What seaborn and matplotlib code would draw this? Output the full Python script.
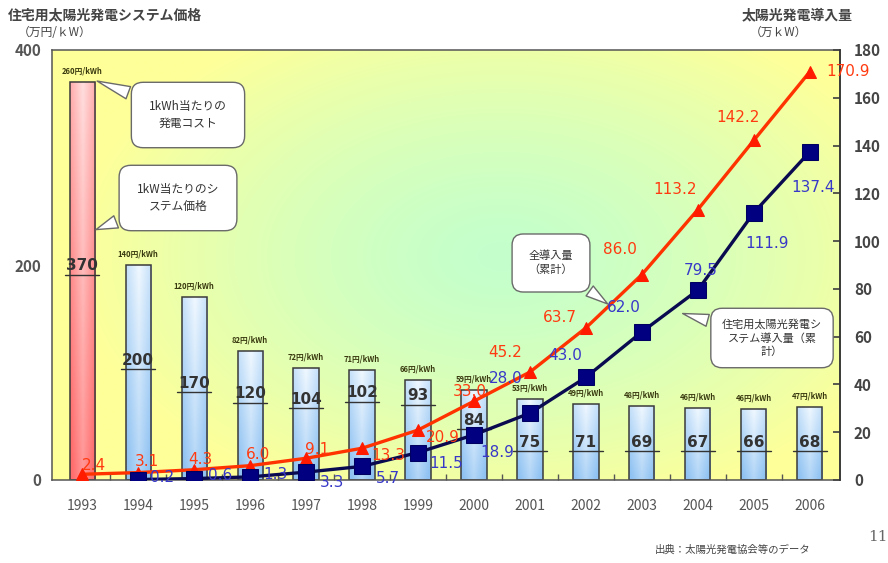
import numpy as np
import pandas as pd
import matplotlib
matplotlib.use("Agg")
import matplotlib.pyplot as plt
import seaborn as sns
from matplotlib.colors import to_rgb
from matplotlib.ticker import MultipleLocator, FixedLocator

# ---- data ----
years = ["1993", "1994", "1995", "1996", "1997", "1998", "1999",
         "2000", "2001", "2002", "2003", "2004", "2005", "2006"]
system_price = [370, 200, 170, 120, 104, 102, 93, 84, 75, 71, 69, 67, 66, 68]
gen_cost = ["260円/kWh", "140円/kWh", "120円/kWh", "82円/kWh", "72円/kWh",
            "71円/kWh", "66円/kWh", "59円/kWh", "53円/kWh", "49円/kWh",
            "48円/kWh", "46円/kWh", "46円/kWh", "47円/kWh"]
total_installed = [2.4, 3.1, 4.3, 6.0, 9.1, 13.3, 20.9, 33.0, 45.2, 63.7,
                   86.0, 113.2, 142.2, 170.9]
res_years = years[1:]
residential_installed = [0.2, 0.6, 1.3, 3.3, 5.7, 11.5, 18.9, 28.0, 43.0,
                         62.0, 79.5, 111.9, 137.4]

# layout: baseline height of the price label inside each bar (left-axis units)
price_label_y = [195, 107, 86, 76, 71, 77, 74, 51, 31, 31, 31, 31, 31, 31]
# label offsets (pixels) relative to each marker
red_offsets = [(12, 9), (9, 11), (6, 10), (8, 11), (11, 9), (26, -7), (25, -7),
               (-4, 10), (-25, 20), (-26, 10), (-22, 25), (-23, 20), (-16, 23),
               (38, 0)]
blue_offsets = [(24, 2), (26, 3), (25, 2), (26, -10), (26, -12), (28, -11),
                (23, -18), (-24, 35), (-21, 22), (-18, 24), (3, 20), (13, -31),
                (3, -36)]

df_bar = pd.DataFrame({"year": years, "price": system_price})
df_total = pd.DataFrame({"pos": np.arange(len(years)), "val": total_installed})
df_res = pd.DataFrame({"pos": np.arange(1, len(years)), "val": residential_installed})

sns.set_theme(style="white")
plt.rcParams["font.family"] = ["Noto Sans CJK JP", "DejaVu Sans"]

W, H = 888, 563
fig = plt.figure(figsize=(W / 100, H / 100), dpi=100)
fig.patch.set_facecolor("white")
ax = fig.add_axes([52 / W, 1 - 480 / H, 788 / W, 430 / H])

# ---- plot-area gradient: green centre fading to yellow edges ----
ny, nx = 220, 400
gx, gy = np.meshgrid(np.linspace(0, 1, nx), np.linspace(0, 1, ny))
r = np.sqrt(((gx - 0.57) / 0.55) ** 2 + ((gy - 0.52) / 0.62) ** 2)
t = np.clip(r, 0, 1) ** 1.4
green = np.array(to_rgb("#c4ffcc"))
yellow = np.array(to_rgb("#ffff99"))
bg = green[None, None, :] * (1 - t[..., None]) + yellow[None, None, :] * t[..., None]
ax.imshow(bg, extent=[0, 1, 0, 1], transform=ax.transAxes, origin="lower",
          aspect="auto", zorder=0, interpolation="bilinear")

# ---- bars ----
bar_colors = ["#ff9a9a"] + ["#b8dcff"] * (len(years) - 1)
sns.barplot(data=df_bar, x="year", y="price", hue="year", palette=bar_colors,
            width=0.45, edgecolor="#3a3a3a", linewidth=1.1, legend=False,
            ax=ax, zorder=2)

patches = sorted(ax.patches, key=lambda p: p.get_x())
for i, p in enumerate(patches):
    x0, y0, w, h = p.get_x(), p.get_y(), p.get_width(), p.get_height()
    u, v = np.meshgrid(np.linspace(0, 1, 40), np.linspace(0, 1, 80))
    f = np.clip(0.65 * (1 - v) + 0.45 * np.abs(2 * u - 1), 0, 1)
    if i == 0:
        light, dark = np.array(to_rgb("#ffdede")), np.array(to_rgb("#ff6e6e"))
    else:
        light, dark = np.array(to_rgb("#f0f8ff")), np.array(to_rgb("#8fc2f2"))
    img = light[None, None, :] * (1 - f[..., None]) + dark[None, None, :] * f[..., None]
    im = ax.imshow(img, extent=[x0, x0 + w, y0, y0 + h], origin="lower",
                   aspect="auto", zorder=2.05, interpolation="bilinear")
    im.set_clip_path(p)
    p.set_facecolor("none")
    p.set_zorder(2.1)

# value labels inside the bars (underlined) and generation cost above
for i, val in enumerate(system_price):
    ly = price_label_y[i]
    ax.text(i, ly, str(val), ha="center", va="baseline", fontsize=11,
            fontweight="bold", color="#333333", family="DejaVu Sans", zorder=5)
    ax.plot([i - 0.3, i + 0.3], [ly - 4, ly - 4], color="#333333", lw=1.0, zorder=5)
    ax.text(i, val + 6, gen_cost[i], ha="center", va="bottom", fontsize=5.5,
            fontweight="bold", color="#3a3a10", zorder=5)

ax.set_xlim(-0.54, len(years) - 1 + 0.54)
ax.set_ylim(0, 400)
ax.set_yticks([0, 200, 400])
ax.set_xlabel("")
ax.set_ylabel("")
ax.tick_params(axis="y", length=0, labelsize=11, labelcolor="#555555", pad=8)
for lab in ax.get_yticklabels():
    lab.set_fontweight("bold")
ax.tick_params(axis="x", which="major", length=0, labelsize=10,
               labelcolor="#555555", pad=14)
ax.xaxis.set_minor_locator(FixedLocator(np.arange(len(years) - 1) + 0.5))
ax.tick_params(axis="x", which="minor", direction="in", length=4,
               color="#555555", width=1, bottom=True)
for s in ax.spines.values():
    s.set_color("#555555")
    s.set_linewidth(1.1)

# ---- cumulative installation lines (right axis) ----
ax2 = ax.twinx()
sns.lineplot(data=df_total, x="pos", y="val", ax=ax2, color="#ff3300", lw=2.4,
             marker="^", markersize=9, markerfacecolor="#ff1a00",
             markeredgecolor="#ff1a00", zorder=6)
sns.lineplot(data=df_res, x="pos", y="val", ax=ax2, color="#0a0a50", lw=2.4,
             marker="s", markersize=11, markerfacecolor="#000080",
             markeredgecolor="#000060", zorder=7)
ax2.set_ylim(0, 180)
ax2.set_xlim(ax.get_xlim())
ax2.yaxis.set_major_locator(MultipleLocator(20))
ax2.set_ylabel("")
ax2.set_xlabel("")
ax2.tick_params(axis="y", direction="in", length=5, color="#444444",
                labelsize=11, labelcolor="#444444", pad=10, right=True)
for lab in ax2.get_yticklabels():
    lab.set_fontweight("bold")
for s in ax2.spines.values():
    s.set_visible(False)
ax2.spines["right"].set_visible(True)
ax2.spines["right"].set_color("#333333")
ax2.spines["right"].set_linewidth(1.2)

for i, val in enumerate(total_installed):
    dx, dy = red_offsets[i]
    ax2.annotate(f"{val:.1f}", (i, val), xytext=(dx, dy), textcoords="offset pixels",
                 ha="center", va="center", fontsize=11, color="#ff3a10",
                 family="DejaVu Sans", zorder=8, annotation_clip=False)
for j, val in enumerate(residential_installed):
    dx, dy = blue_offsets[j]
    ax2.annotate(f"{val:.1f}", (j + 1, val), xytext=(dx, dy), textcoords="offset pixels",
                 ha="center", va="center", fontsize=11, color="#3838c8",
                 family="DejaVu Sans", zorder=8, annotation_clip=False)

# ---- callouts ----
bubble = dict(boxstyle="round,pad=1.5,rounding_size=1.0", fc="white", ec="#6a6a6a", lw=1)
wedge = dict(arrowstyle="wedge,tail_width=1.1,shrink_factor=0.5", fc="white",
             ec="#6a6a6a", lw=1)
ax2.annotate("1kWh当たりの\n発電コスト", xy=(0.22, 372 * 180 / 400),
             xytext=(188, H - 115), textcoords="figure pixels", ha="center",
             va="center", fontsize=8.5, color="#333333", bbox=bubble,
             arrowprops=wedge, zorder=9, linespacing=1.4)
ax2.annotate("1kW当たりのシ\nステム価格", xy=(0.2, 232 * 180 / 400),
             xytext=(178, H - 198), textcoords="figure pixels", ha="center",
             va="center", fontsize=8.5, color="#333333", bbox=bubble,
             arrowprops=wedge, zorder=9, linespacing=1.4)
ax2.annotate("全導入量\n（累計）", xy=(9.43, 73), xytext=(551, H - 263),
             textcoords="figure pixels", ha="center", va="center", fontsize=8,
             color="#333333", bbox=bubble, arrowprops=wedge, zorder=9,
             linespacing=1.4)
ax2.annotate("住宅用太陽光発電シ\nステム導入量（累\n計）", xy=(10.68, 70),
             xytext=(772, H - 338), textcoords="figure pixels", ha="center",
             va="center", fontsize=8, color="#333333",
             bbox=dict(boxstyle="round,pad=1.0,rounding_size=1.0", fc="white",
                       ec="#6a6a6a", lw=1),
             arrowprops=wedge, zorder=9, linespacing=1.3)

# ---- axis titles, source and page number ----
fig.text(8 / W, 1 - 15 / H, "住宅用太陽光発電システム価格", fontsize=10,
         fontweight="bold", color="#444444", va="center", ha="left")
fig.text(18 / W, 1 - 32 / H, "（万円/ｋW）", fontsize=8.5, color="#444444",
         va="center", ha="left")
fig.text(742 / W, 1 - 15 / H, "太陽光発電導入量", fontsize=10, fontweight="bold",
         color="#444444", va="center", ha="left")
fig.text(750 / W, 1 - 32 / H, "（万ｋW）", fontsize=8.5, color="#444444",
         va="center", ha="left")
fig.text(655 / W, 1 - 550 / H, "出典：太陽光発電協会等のデータ", fontsize=7.5,
         color="#444444", va="center", ha="left")
fig.text(868 / W, 1 - 537 / H, "11", fontsize=11, family="DejaVu Serif",
         color="#666666", va="center", ha="left")

fig.savefig("out.png", dpi=100)
